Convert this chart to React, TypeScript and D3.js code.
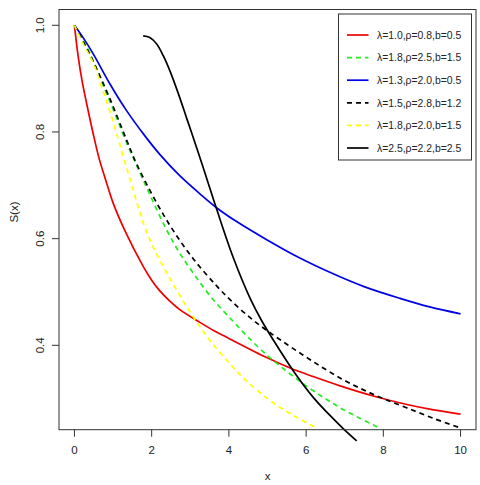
import * as React from 'react'
import * as d3 from 'd3'

// values
const redX = [0, 0.1, 0.2, 0.32, 0.5, 0.64, 0.8, 1.0, 1.3, 1.78, 2.0, 2.2, 2.47, 2.73, 3.25, 3.6, 4.0, 4.98, 5.6, 6.2, 6.88, 7.74, 8.61, 9.3, 10]
const redS = [1.0, 0.94, 0.895, 0.852, 0.792, 0.75, 0.712, 0.667, 0.616, 0.548, 0.522, 0.503, 0.483, 0.467, 0.443, 0.428, 0.413, 0.377, 0.357, 0.341, 0.324, 0.305, 0.289, 0.279, 0.271]

const greenX = [0, 0.2, 0.4, 0.7, 1.01, 1.35, 1.7, 2.0, 2.39, 2.7, 3.08, 3.6, 4.11, 4.5, 4.98, 5.5, 6.0, 6.5, 6.88, 7.4, 7.9]
const greenS = [1.0, 0.975, 0.948, 0.895, 0.841, 0.78, 0.723, 0.675, 0.616, 0.576, 0.535, 0.485, 0.445, 0.415, 0.382, 0.351, 0.324, 0.3, 0.283, 0.263, 0.245]

const blueX = [0, 0.25, 0.49, 0.92, 1.35, 1.8, 2.21, 2.7, 3.25, 3.68, 4.2, 4.98, 5.8, 6.7, 7.5, 8.43, 9.2, 10]
const blueS = [1.0, 0.974, 0.946, 0.89, 0.84, 0.795, 0.758, 0.72, 0.684, 0.658, 0.632, 0.598, 0.565, 0.534, 0.51, 0.488, 0.472, 0.459]

const blackDashX = [0, 0.25, 0.5, 0.92, 1.35, 1.61, 2.13, 2.56, 3.08, 3.7, 4.11, 4.55, 4.98, 5.5, 6.0, 6.5, 7.0, 7.5, 8.0, 8.6, 9.3, 10]
const blackDashS = [1.0, 0.966, 0.93, 0.862, 0.785, 0.74, 0.667, 0.615, 0.562, 0.51, 0.48, 0.452, 0.428, 0.402, 0.378, 0.355, 0.334, 0.316, 0.3, 0.283, 0.263, 0.245]

const yellowX = [0, 0.25, 0.49, 0.75, 0.92, 1.18, 1.61, 1.87, 2.21, 2.65, 3.08, 3.5, 4.03, 4.46, 5.0, 5.32, 5.8, 6.27]
const yellowS = [1.0, 0.962, 0.929, 0.875, 0.838, 0.775, 0.67, 0.612, 0.56, 0.503, 0.453, 0.41, 0.365, 0.333, 0.3, 0.284, 0.263, 0.245]

const blackX = [1.78, 1.95, 2.13, 2.3, 2.47, 2.7, 2.91, 3.13, 3.34, 3.68, 4.11, 4.55, 4.85, 5.15, 5.67, 6.19, 6.6, 6.96, 7.31]
const blackS = [0.98, 0.977, 0.965, 0.943, 0.915, 0.87, 0.825, 0.778, 0.732, 0.656, 0.565, 0.488, 0.446, 0.41, 0.352, 0.302, 0.27, 0.244, 0.221]

const labels = ['λ=1.0,ρ=0.8,b=0.5', 'λ=1.8,ρ=2.5,b=1.5', 'λ=1.3,ρ=2.0,b=0.5', 'λ=1.5,ρ=2.8,b=1.2', 'λ=1.8,ρ=2.0,b=1.5', 'λ=2.5,ρ=2.2,b=2.5']
const xTicks = [0, 2, 4, 6, 8, 10]
const yTicks = [0.4, 0.6, 0.8, 1.0]

const series = [
    { xs: redX, ys: redS, color: '#f00000', dash: '' },
    { xs: greenX, ys: greenS, color: '#22ee22', dash: '5,4' },
    { xs: blueX, ys: blueS, color: '#0000e8', dash: '' },
    { xs: blackDashX, ys: blackDashS, color: '#000000', dash: '5,4' },
    { xs: yellowX, ys: yellowS, color: '#ffff00', dash: '5,4' },
    { xs: blackX, ys: blackS, color: '#000000', dash: '' },
]

const W = 480
const H = 485
const left = 59
const right = 476
const top = 9.5
const bottom = 429.7

export default function App() {
    const x = d3.scaleLinear().domain([-0.4, 10.4]).range([left, right])
    const y = d3.scaleLinear().domain([0.2418, 1.0296]).range([bottom, top])
    const line = d3.line<[number, number]>()
        .x(d => x(d[0]))
        .y(d => y(d[1]))
        .curve(d3.curveCatmullRom.alpha(0.5))

    const font = 'Liberation Sans, Arial, sans-serif'

    return <svg width={W} height={H} style={{ position: 'absolute', left: 0, top: 0, background: '#fff' }}
        fontFamily={font}>
        <rect x={0} y={0} width={W} height={H} fill='#fff' />
        {series.map((s, i) => (
            <path key={i}
                d={line(s.xs.map((v, j) => [v, s.ys[j]] as [number, number])) || ''}
                fill='none' stroke={s.color} strokeWidth={1.7}
                strokeDasharray={s.dash || undefined} />
        ))}
        <rect x={left} y={top} width={right - left} height={bottom - top}
            fill='none' stroke='#333' strokeWidth={1} />

        {/* x axis */}
        <g>
            {xTicks.map(t => (
                <g key={t}>
                    <line x1={x(t)} x2={x(t)} y1={bottom} y2={bottom + 7} stroke='#333' />
                    <text x={x(t)} y={454} textAnchor='middle' fontSize={11.5} fill='#222'>{t}</text>
                </g>
            ))}
            <text x={(left + right) / 2} y={480} textAnchor='middle' fontSize={11.5} fill='#222'>x</text>
        </g>

        {/* y axis */}
        <g>
            {yTicks.map(t => (
                <g key={t}>
                    <line x1={left} x2={left - 7} y1={y(t)} y2={y(t)} stroke='#333' />
                    <text transform={`translate(43.5, ${y(t)}) rotate(-90)`} textAnchor='middle'
                        fontSize={11.5} fill='#222'>{t.toFixed(1)}</text>
                </g>
            ))}
            <text transform={`translate(17.5, 212) rotate(-90)`} textAnchor='middle'
                fontSize={11.5} fill='#222'>S(x)</text>
        </g>

        {/* legend */}
        <g>
            <rect x={338.5} y={14} width={133} height={146} fill='#fff' stroke='#333' />
            {labels.map((l, i) => {
                const ly = 35 + i * 22.6
                const s = series[i]
                return <g key={i}>
                    <line x1={347} x2={368.5} y1={ly} y2={ly} stroke={s.color} strokeWidth={1.7}
                        strokeDasharray={s.dash || undefined} />
                    <text x={377} y={ly + 3.8} fontSize={10.4} fill='#222'>{l}</text>
                </g>
            })}
        </g>
    </svg>
}
